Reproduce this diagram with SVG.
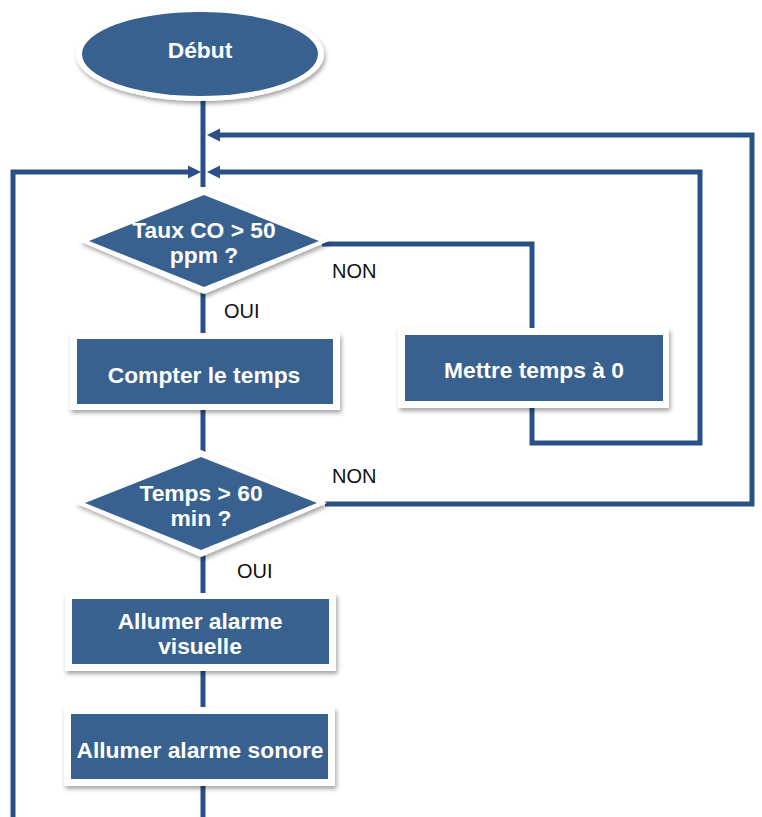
<svg xmlns="http://www.w3.org/2000/svg" width="762" height="817" viewBox="0 0 762 817">
<style>
.ln{fill:none;stroke:#2A5187;stroke-width:5;stroke-linejoin:miter;stroke-linecap:butt}
.ah{fill:#2A5187}
.sh{fill:#fff;filter:url(#ds)}
.nd{fill:#386190}
.t{font-family:"Liberation Sans",Arial,sans-serif;font-weight:bold;font-size:22.8px;fill:#fff;text-anchor:middle}
.lb{font-family:"Liberation Sans",Arial,sans-serif;font-size:20px;fill:#111}
</style>
<defs>
<filter id="ds" x="-10%" y="-10%" width="125%" height="130%">
<feDropShadow dx="1.5" dy="3" stdDeviation="2" flood-color="#000" flood-opacity="0.35"/>
</filter>
</defs>
<rect width="762" height="817" fill="#fff"/>
<g id="connectors">
<path class="ln" d="M203 96V187"/>
<path class="ln" d="M203 290V335"/>
<path class="ln" d="M203 408V452"/>
<path class="ln" d="M203 553V595"/>
<path class="ln" d="M203 668V710"/>
<path class="ln" d="M203 783V817"/>
<path class="ln" d="M13 817V172H190"/>
<polygon class="ah" points="201,172 188,165.5 188,178.5"/>
<path class="ln" d="M322 244H532V332"/>
<path class="ln" d="M532 404V443H700V172H220"/>
<polygon class="ah" points="207,172 220,165.5 220,178.5"/>
<path class="ln" d="M325 504H752V135H220"/>
<polygon class="ah" points="207,135 220,128.5 220,141.5"/>
<text class="lb" x="332" y="278">NON</text>
<text class="lb" x="224" y="318">OUI</text>
<text class="lb" x="332" y="483">NON</text>
<text class="lb" x="237" y="578">OUI</text>
</g>
<g id="debut">
<ellipse class="sh" cx="200" cy="54" rx="124" ry="47"/>
<ellipse class="nd" cx="200" cy="54" rx="118" ry="42"/>
<text class="t" x="200" y="58">Début</text>
</g>
<g id="taux">
<polygon class="sh" points="204,188 329,241 204,294 79,241"/>
<polygon class="nd" points="204,195 319,241 204,287 89,241"/>
<text class="t" x="204" y="238">Taux CO &gt; 50</text>
<text class="t" x="204" y="263">ppm ?</text>
</g>
<g id="compter">
<rect class="sh" x="70" y="333" width="270" height="77"/>
<rect class="nd" x="77" y="339" width="256" height="65"/>
<text class="t" x="204" y="383">Compter le temps</text>
</g>
<g id="mettre">
<rect class="sh" x="398" y="328" width="271" height="80"/>
<rect class="nd" x="405" y="335" width="258" height="66"/>
<text class="t" x="534" y="378">Mettre temps à 0</text>
</g>
<g id="temps">
<polygon class="sh" points="201,450 327,503 201,557 75,503"/>
<polygon class="nd" points="201,457 317,503 201,550 85,503"/>
<text class="t" x="201" y="501">Temps &gt; 60</text>
<text class="t" x="201" y="526">min ?</text>
</g>
<g id="visuelle">
<rect class="sh" x="65" y="593" width="271" height="78"/>
<rect class="nd" x="72" y="599" width="257" height="65"/>
<text class="t" x="200" y="629">Allumer alarme</text>
<text class="t" x="200" y="654">visuelle</text>
</g>
<g id="sonore">
<rect class="sh" x="64" y="707" width="271" height="79"/>
<rect class="nd" x="71" y="714" width="257" height="65"/>
<text class="t" x="200" y="758">Allumer alarme sonore</text>
</g>
</svg>
